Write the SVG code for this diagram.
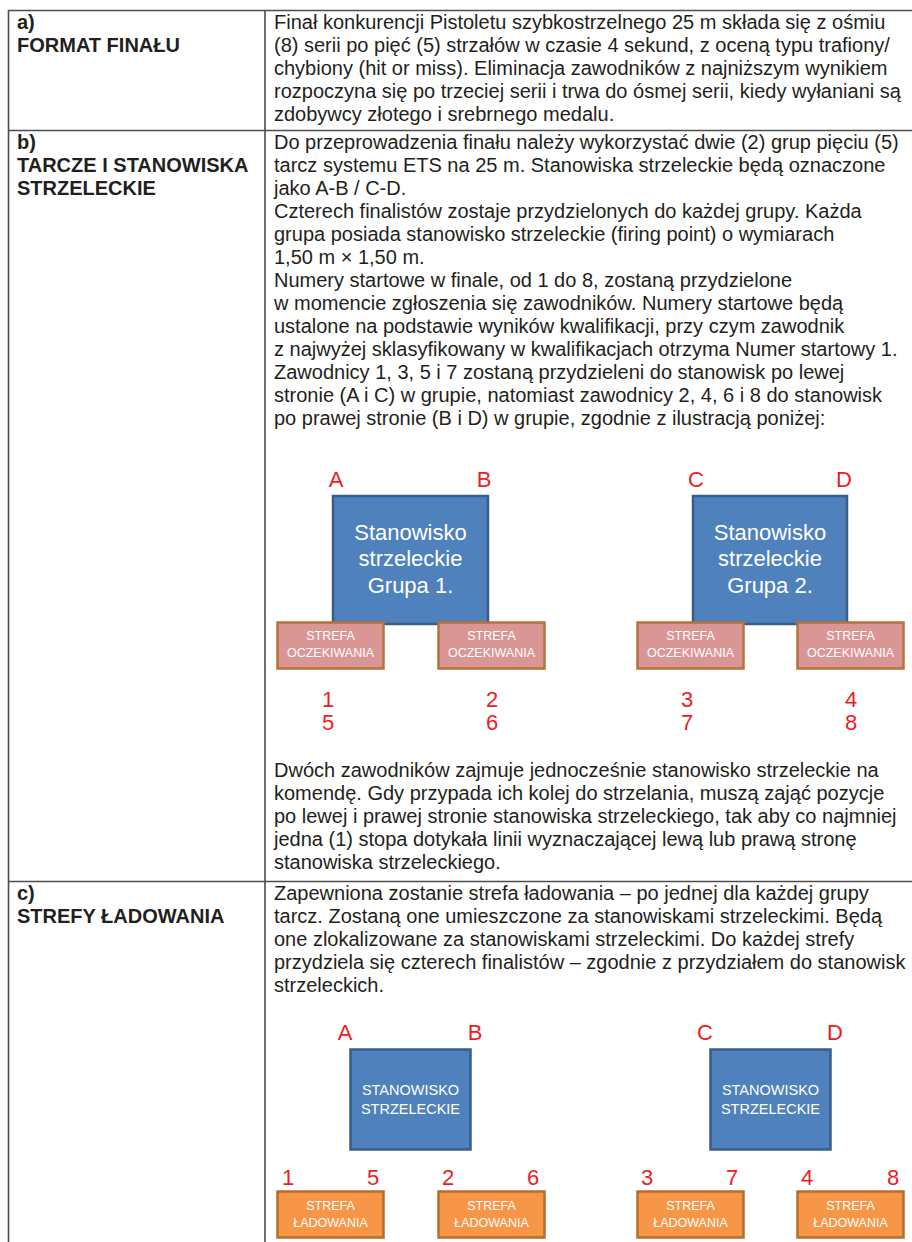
<svg xmlns="http://www.w3.org/2000/svg" width="912" height="1242" viewBox="0 0 912 1242">
<style>
.t{font-family:"Liberation Sans",Arial,sans-serif;font-size:20px;fill:#231f20}
.b{font-weight:bold}
.grid{stroke:#4d4d4d;stroke-width:1.6;fill:none}
.lbl{font-family:"Liberation Sans",Arial,sans-serif;font-size:22px;fill:#ed1c24;text-anchor:middle}
.blue{fill:#4f81bd;stroke:#385d8a;stroke-width:2.5}
.pink{fill:#d99694;stroke:#b5733a;stroke-width:2.5}
.orange{fill:#f79646;stroke:#b66d31;stroke-width:2.5}
.w22{font-family:"Liberation Sans",Arial,sans-serif;font-size:22px;fill:#fff;text-anchor:middle}
.w14{font-family:"Liberation Sans",Arial,sans-serif;font-size:14.5px;fill:#fff;text-anchor:middle}
.w12{font-family:"Liberation Sans",Arial,sans-serif;font-size:12.5px;fill:#fff;text-anchor:middle}
</style>
<rect width="912" height="1242" fill="#fff"/>
<g id="table">
<path class="grid" d="M8.5 1242V10.5H912M265 10.5V1242M8.5 130.5H912M8.5 881.5H912"/>
</g>
<g id="row-a">
<text class="t b" x="17" y="29">a)</text>
<text class="t b" x="17" y="52">FORMAT FINAŁU</text>
<text class="t" x="274" y="29">Finał konkurencji Pistoletu szybkostrzelnego 25 m składa się z ośmiu</text>
<text class="t" x="274" y="52">(8) serii po pięć (5) strzałów w czasie 4 sekund, z oceną typu trafiony/</text>
<text class="t" x="274" y="75">chybiony (hit or miss). Eliminacja zawodników z najniższym wynikiem</text>
<text class="t" x="274" y="98">rozpoczyna się po trzeciej serii i trwa do ósmej serii, kiedy wyłaniani są</text>
<text class="t" x="274" y="121">zdobywcy złotego i srebrnego medalu.</text>
</g>
<g id="row-b">
<text class="t b" x="17" y="149">b)</text>
<text class="t b" x="17" y="172">TARCZE I STANOWISKA</text>
<text class="t b" x="17" y="195">STRZELECKIE</text>
<text class="t" x="274" y="149">Do przeprowadzenia finału należy wykorzystać dwie (2) grup pięciu (5)</text>
<text class="t" x="274" y="172">tarcz systemu ETS na 25 m. Stanowiska strzeleckie będą oznaczone</text>
<text class="t" x="274" y="195">jako A-B / C-D.</text>
<text class="t" x="274" y="218">Czterech finalistów zostaje przydzielonych do każdej grupy. Każda</text>
<text class="t" x="274" y="241">grupa posiada stanowisko strzeleckie (firing point) o wymiarach</text>
<text class="t" x="274" y="264">1,50 m × 1,50 m.</text>
<text class="t" x="274" y="287">Numery startowe w finale, od 1 do 8, zostaną przydzielone</text>
<text class="t" x="274" y="310">w momencie zgłoszenia się zawodników. Numery startowe będą</text>
<text class="t" x="274" y="333">ustalone na podstawie wyników kwalifikacji, przy czym zawodnik</text>
<text class="t" x="274" y="356">z najwyżej sklasyfikowany w kwalifikacjach otrzyma Numer startowy 1.</text>
<text class="t" x="274" y="379">Zawodnicy 1, 3, 5 i 7 zostaną przydzieleni do stanowisk po lewej</text>
<text class="t" x="274" y="402">stronie (A i C) w grupie, natomiast zawodnicy 2, 4, 6 i 8 do stanowisk</text>
<text class="t" x="274" y="425">po prawej stronie (B i D) w grupie, zgodnie z ilustracją poniżej:</text>
<text class="t" x="274" y="777">Dwóch zawodników zajmuje jednocześnie stanowisko strzeleckie na</text>
<text class="t" x="274" y="800">komendę. Gdy przypada ich kolej do strzelania, muszą zająć pozycje</text>
<text class="t" x="274" y="823">po lewej i prawej stronie stanowiska strzeleckiego, tak aby co najmniej</text>
<text class="t" x="274" y="846">jedna (1) stopa dotykała linii wyznaczającej lewą lub prawą stronę</text>
<text class="t" x="274" y="869">stanowiska strzeleckiego.</text>
</g>
<g id="group1-firing">
<text class="lbl" x="336" y="487">A</text>
<text class="lbl" x="484" y="487">B</text>
<rect class="blue" x="333" y="496" width="155" height="128"/>
<text class="w22" x="410.5" y="540">Stanowisko</text>
<text class="w22" x="410.5" y="566">strzeleckie</text>
<text class="w22" x="410.5" y="593">Grupa 1.</text>
</g>
<g id="group1-wait-left">
<rect class="pink" x="277.5" y="622.5" width="106" height="46"/>
<text class="w12" x="330.5" y="640">STREFA</text>
<text class="w12" x="330.5" y="657">OCZEKIWANIA</text>
<text class="lbl" x="328" y="707">1</text>
<text class="lbl" x="328" y="730">5</text>
</g>
<g id="group1-wait-right">
<rect class="pink" x="438.5" y="622.5" width="106" height="46"/>
<text class="w12" x="491.5" y="640">STREFA</text>
<text class="w12" x="491.5" y="657">OCZEKIWANIA</text>
<text class="lbl" x="492" y="707">2</text>
<text class="lbl" x="492" y="730">6</text>
</g>
<g id="group2-firing">
<text class="lbl" x="696" y="487">C</text>
<text class="lbl" x="844" y="487">D</text>
<rect class="blue" x="693" y="496" width="154" height="128"/>
<text class="w22" x="770" y="540">Stanowisko</text>
<text class="w22" x="770" y="566">strzeleckie</text>
<text class="w22" x="770" y="593">Grupa 2.</text>
</g>
<g id="group2-wait-left">
<rect class="pink" x="637.5" y="622.5" width="106" height="46"/>
<text class="w12" x="690.5" y="640">STREFA</text>
<text class="w12" x="690.5" y="657">OCZEKIWANIA</text>
<text class="lbl" x="687" y="707">3</text>
<text class="lbl" x="687" y="730">7</text>
</g>
<g id="group2-wait-right">
<rect class="pink" x="797.5" y="622.5" width="106" height="46"/>
<text class="w12" x="850.5" y="640">STREFA</text>
<text class="w12" x="850.5" y="657">OCZEKIWANIA</text>
<text class="lbl" x="851" y="707">4</text>
<text class="lbl" x="851" y="730">8</text>
</g>
<g id="row-c">
<text class="t b" x="17" y="900">c)</text>
<text class="t b" x="17" y="923">STREFY ŁADOWANIA</text>
<text class="t" x="274" y="900">Zapewniona zostanie strefa ładowania – po jednej dla każdej grupy</text>
<text class="t" x="274" y="923">tarcz. Zostaną one umieszczone za stanowiskami strzeleckimi. Będą</text>
<text class="t" x="274" y="946">one zlokalizowane za stanowiskami strzeleckimi. Do każdej strefy</text>
<text class="t" x="274" y="969">przydziela się czterech finalistów – zgodnie z przydziałem do stanowisk</text>
<text class="t" x="274" y="992">strzeleckich.</text>
</g>
<g id="station-ab">
<text class="lbl" x="345" y="1040">A</text>
<text class="lbl" x="475" y="1040">B</text>
<rect class="blue" x="350.5" y="1049.5" width="120" height="100"/>
<text class="w14" x="410.5" y="1095">STANOWISKO</text>
<text class="w14" x="410.5" y="1114">STRZELECKIE</text>
</g>
<g id="station-cd">
<text class="lbl" x="705" y="1040">C</text>
<text class="lbl" x="835" y="1040">D</text>
<rect class="blue" x="710.5" y="1049.5" width="120" height="100"/>
<text class="w14" x="770.5" y="1095">STANOWISKO</text>
<text class="w14" x="770.5" y="1114">STRZELECKIE</text>
</g>
<g id="load-1">
<text class="lbl" x="288" y="1185">1</text>
<text class="lbl" x="373" y="1185">5</text>
<rect class="orange" x="277.5" y="1191.5" width="106" height="46"/>
<text class="w12" x="330.5" y="1210">STREFA</text>
<text class="w12" x="330.5" y="1227">ŁADOWANIA</text>
</g>
<g id="load-2">
<text class="lbl" x="448" y="1185">2</text>
<text class="lbl" x="533" y="1185">6</text>
<rect class="orange" x="438.5" y="1191.5" width="106" height="46"/>
<text class="w12" x="491.5" y="1210">STREFA</text>
<text class="w12" x="491.5" y="1227">ŁADOWANIA</text>
</g>
<g id="load-3">
<text class="lbl" x="647" y="1185">3</text>
<text class="lbl" x="732" y="1185">7</text>
<rect class="orange" x="637.5" y="1191.5" width="106" height="46"/>
<text class="w12" x="690.5" y="1210">STREFA</text>
<text class="w12" x="690.5" y="1227">ŁADOWANIA</text>
</g>
<g id="load-4">
<text class="lbl" x="807" y="1185">4</text>
<text class="lbl" x="893" y="1185">8</text>
<rect class="orange" x="797.5" y="1191.5" width="106" height="46"/>
<text class="w12" x="850.5" y="1210">STREFA</text>
<text class="w12" x="850.5" y="1227">ŁADOWANIA</text>
</g>
</svg>
